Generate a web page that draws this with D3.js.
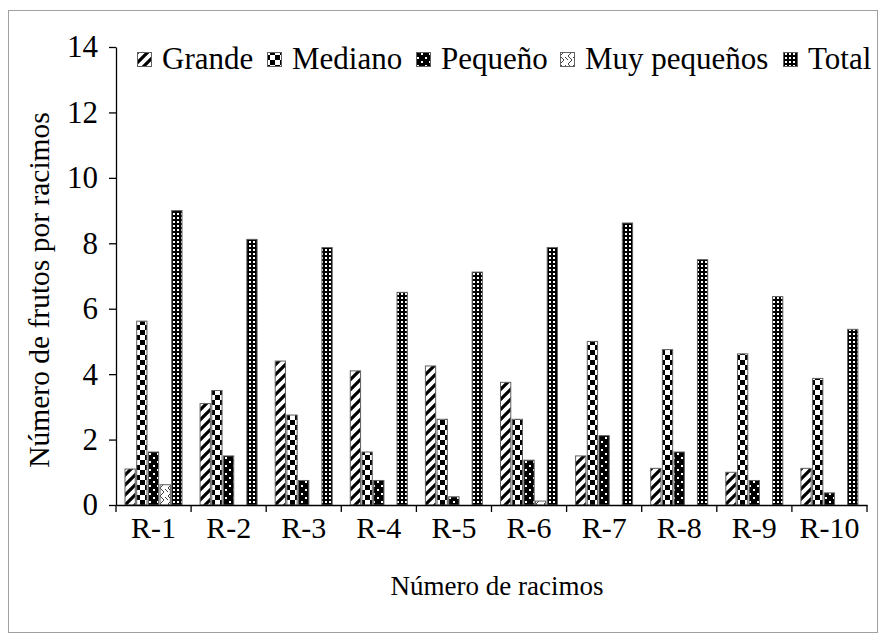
<!DOCTYPE html>
<html>
<head>
<meta charset="utf-8">
<script src="https://cdn.jsdelivr.net/npm/d3@7"></script>
<style>
body{margin:0;background:#fff;}
text{font-family:"Liberation Serif","Times New Roman",serif;fill:#000;}
</style>
</head>
<body>
<svg id="chart" width="885" height="641"></svg>
<script>
const categories=["R-1","R-2","R-3","R-4","R-5","R-6","R-7","R-8","R-9","R-10"];
const seriesNames=["Grande","Mediano","Pequeño","Muy pequeños","Total"];
const grande=[1.1,3.1,4.4,4.1,4.25,3.75,1.5,1.12,1.0,1.12];
const mediano=[5.62,3.5,2.75,1.62,2.62,2.62,5.0,4.75,4.62,3.87];
const pequeno=[1.62,1.5,0.75,0.75,0.25,1.37,2.12,1.62,0.75,0.37];
const muyPequenos=[0.62,0,0,0,0,0.12,0,0,0,0];
const total=[9.0,8.12,7.87,6.5,7.12,7.87,8.62,7.5,6.37,5.37];
const yTicks=[0,2,4,6,8,10,12,14];

const seriesValues=[grande,mediano,pequeno,muyPequenos,total];
const patternIds=["pGrande","pMediano","pPequeno","pMuy","pTotal"];

const svg=d3.select("#chart");
const plotLeft=116,plotRight=867,plotTop=47,plotBottom=505;

// outer frame
svg.append("rect").attr("x",8.5).attr("y",10.5).attr("width",869).attr("height",622)
  .attr("fill","#fff").attr("stroke","#a0a0a0").attr("stroke-width",1);

// patterns
const defs=svg.append("defs");
let p=defs.append("pattern").attr("id","pGrande").attr("patternUnits","userSpaceOnUse")
  .attr("width",10).attr("height",10);
p.append("rect").attr("width",10).attr("height",10).attr("fill","#fff");
p.append("path").attr("d","M-2,12 L12,-2 M-2,2 L2,-2 M8,12 L12,8").attr("stroke","#000").attr("stroke-width",3.2);

p=defs.append("pattern").attr("id","pMediano").attr("patternUnits","userSpaceOnUse")
  .attr("width",10).attr("height",10);
p.append("rect").attr("width",10).attr("height",10).attr("fill","#fff");
p.append("rect").attr("width",5).attr("height",5).attr("fill","#000");
p.append("rect").attr("x",5).attr("y",5).attr("width",5).attr("height",5).attr("fill","#000");

p=defs.append("pattern").attr("id","pPequeno").attr("patternUnits","userSpaceOnUse")
  .attr("width",8).attr("height",8);
p.append("rect").attr("width",8).attr("height",8).attr("fill","#000");
p.append("rect").attr("x",1).attr("y",1).attr("width",2).attr("height",2).attr("fill","#fff");
p.append("rect").attr("x",5).attr("y",5).attr("width",2).attr("height",2).attr("fill","#fff");

p=defs.append("pattern").attr("id","pMuy").attr("patternUnits","userSpaceOnUse")
  .attr("width",8).attr("height",8);
p.append("rect").attr("width",8).attr("height",8).attr("fill","#fff");
p.append("path").attr("d","M0,0 L4,4 M4,4 L0,8 M5,1 L8,4").attr("stroke","#444").attr("stroke-width",1);

p=defs.append("pattern").attr("id","pTotal").attr("patternUnits","userSpaceOnUse")
  .attr("width",4).attr("height",4);
p.append("rect").attr("width",4).attr("height",4).attr("fill","#000");
p.append("rect").attr("x",1).attr("y",1).attr("width",2).attr("height",2).attr("fill","#fff");

const x=d3.scaleBand().domain(categories).range([plotLeft,plotRight]);
const xs=d3.scaleBand().domain(seriesNames).range([9,66]).paddingInner(0.12);
const y=d3.scaleLinear().domain([0,14]).range([plotBottom,plotTop]);

// bars
seriesNames.forEach((name,si)=>{
  svg.append("g").selectAll("rect")
    .data(seriesValues[si].map((v,i)=>({cat:categories[i],v:v})).filter(d=>d.v>0))
    .enter().append("rect")
    .attr("x",d=>x(d.cat)+xs(name))
    .attr("y",d=>y(d.v))
    .attr("width",xs.bandwidth())
    .attr("height",d=>plotBottom-y(d.v))
    .attr("fill","url(#"+patternIds[si]+")")
    .attr("stroke","#606060").attr("stroke-width",1);
});

// y axis
const yAxis=svg.append("g").attr("transform","translate("+plotLeft+",0)")
  .call(d3.axisLeft(y).tickValues(yTicks).tickSize(7).tickSizeOuter(0).tickPadding(11));
yAxis.selectAll("path,line").attr("stroke","#000").attr("stroke-width",1.3);
yAxis.selectAll("text").style("font-size","31px").attr("font-family",null);

// x axis
const xAxis=svg.append("g").attr("transform","translate(0,"+plotBottom+")")
  .call(d3.axisBottom(x).tickSize(0).tickPadding(12));
xAxis.select(".domain").attr("stroke","#000").attr("stroke-width",1.3);
xAxis.selectAll("text").style("font-size","30px").attr("font-family",null);
svg.append("g").selectAll("line")
  .data(categories.concat(["end"]))
  .enter().append("line")
  .attr("x1",(d,i)=>i<categories.length?x(d):plotRight)
  .attr("x2",(d,i)=>i<categories.length?x(d):plotRight)
  .attr("y1",plotBottom).attr("y2",plotBottom+7)
  .attr("stroke","#000").attr("stroke-width",1.3);

// titles
svg.append("text").attr("x",497).attr("y",595).attr("text-anchor","middle")
  .style("font-size","27px").text("Número de racimos");
svg.append("text").attr("transform","translate(49,"+((plotTop+plotBottom)/2+14)+") rotate(-90)")
  .attr("text-anchor","middle").style("font-size","29.5px").text("Número de frutos por racimos");

// legend
const legendX=[137,267,416,560,783];
const legend=svg.append("g");
seriesNames.forEach((name,si)=>{
  legend.append("rect").attr("x",legendX[si]+0.5).attr("y",52.5).attr("width",14).attr("height",14)
    .attr("fill","url(#"+patternIds[si]+")").attr("stroke","#606060");
  legend.append("text").attr("x",legendX[si]+25).attr("y",69)
    .style("font-size","31px").text(name);
});
</script>
</body>
</html>
